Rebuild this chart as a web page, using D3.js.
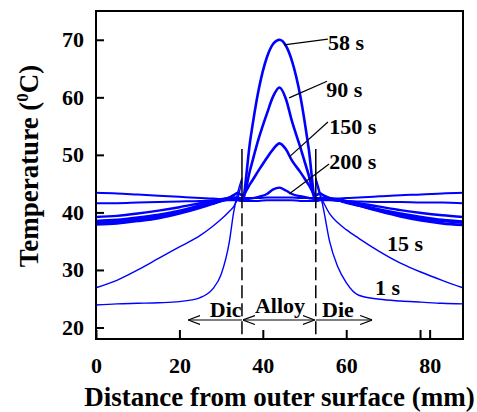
<!DOCTYPE html>
<html>
<head>
<meta charset="utf-8">
<script src="https://cdn.jsdelivr.net/npm/d3@7"></script>
<style>
    body { margin: 0; background: #fff; }
    svg text { font-family: "Liberation Serif", "Times New Roman", serif; font-weight: bold; fill: #000; }
</style>
</head>
<body>
<svg id="chart"></svg>
<script>
// distance from outer surface (mm), shared by all curves
var distance = [0, 5, 10, 15, 20, 25, 28, 30, 32, 33, 34, 35, 37, 39, 41, 42.5, 44, 45.5, 47, 49, 51, 52.7,
    53.7, 54.7, 56, 58, 60, 63, 68, 73, 78, 83, 88];
// temperature (oC) of each curve, null = no value
var temp1s = [23.9, 24.1, 24.2, 24.3, 24.5, 25.2, 26.7, 29.2, 35, 40, 43.5, 46,
    null, null, null, null, null, null, null, null, null,
    46, 43.5, 40, 35, 30.5, 27.8, 25.6, 24.9, 24.6, 24.4, 24.2, 24.1];
var temp15s = [26.9, 28.2, 30, 32, 34, 36, 37.6, 38.8, 40.2, 41, 42.5, 45.5,
    null, null, null, null, null, null, null, null, null,
    45.5, 43, 41.5, 39.8, 38.2, 37, 35.5, 33.2, 31.2, 29.6, 28.2, 26.9];
var temp58s = [37.9, 38.1, 38.5, 39, 39.8, 40.8, 41.5, 42, 42.3, 42.3, 42.2, 42,
    52.6, 61.3, 67, 69.3, 70, 69, 66.3, 60.2, 51.1,
    42, 42.2, 42.3, 42.3, 42.1, 41.8, 41.2, 40.2, 39.3, 38.6, 38.1, 37.8];
var temp90s = [38.2, 38.4, 38.8, 39.3, 40, 41, 41.6, 42, 42.3, 42.4, 42.4, 42.2,
    47.5, 52.8, 57.2, 60.2, 61.7, 59.8, 55.8, 51.3, 46.5,
    42.2, 42.4, 42.4, 42.3, 42.1, 41.7, 41.2, 40.3, 39.5, 38.9, 38.5, 38.2];
var temp150s = [38.5, 38.7, 39.1, 39.6, 40.3, 41.2, 41.8, 42.2, 42.6, 43, 43.4, 43,
    45, 47.3, 49.5, 51, 52, 51, 49, 47, 44.8,
    43, 43.3, 42.9, 42.5, 42.2, 41.8, 41.3, 40.5, 39.8, 39.2, 38.7, 38.4];
var temp200s = [39.2, 39.4, 39.8, 40.3, 40.9, 41.6, 42, 42.3, 42.5, 42.6, 42.6, 42.3,
    42.4, 42.7, 43.2, 44, 44.3, 43.8, 43.2, 42.8, 42.5,
    42.3, 42.5, 42.5, 42.4, 42.3, 42, 41.6, 41, 40.4, 39.9, 39.5, 39.2];
var tempLateA = [43.4, 43.3, 43.1, 42.9, 42.7, 42.5, 42.4, 42.3, 42.3, 42.4, 42.5, 42.5,
    42.5, 42.5, 42.6, 42.6, 42.6, 42.6, 42.6, 42.5, 42.5,
    42.5, 42.5, 42.4, 42.3, 42.4, 42.5, 42.6, 42.8, 43, 43.1, 43.3, 43.4];
var tempLateB = [41.6, 41.6, 41.7, 41.8, 41.9, 42, 42.1, 42.1, 42.1, 42.1, 42.1, 42,
    42, 42, 42.1, 42.1, 42.1, 42.1, 42.1, 42, 42,
    42, 42.1, 42.1, 42.1, 42, 42, 41.9, 41.8, 41.8, 41.7, 41.7, 41.6];
// die / alloy boundaries (mm)
var interfaces = [35, 52.7];
// ticks
var xTicks = [0, 20, 40, 60, 77.7, 80];
var xTickLabels = ['0', '20', '40', '60', '', '80'];
var yTicks = [20, 30, 40, 50, 60, 70];

var series = [
    {name: '1 s', values: temp1s, width: 1.4},
    {name: '15 s', values: temp15s, width: 1.4},
    {name: '', values: tempLateB, width: 2},
    {name: '', values: tempLateA, width: 2},
    {name: '200 s', values: temp200s, width: 2.4},
    {name: '150 s', values: temp150s, width: 2.6},
    {name: '90 s', values: temp90s, width: 2.6},
    {name: '58 s', values: temp58s, width: 2.6}
];

function drawChart(selector) {
    var svgWidth = 477,
        svgHeight = 412;
    var padding = {left: 96, right: 14, top: 11, bottom: 73};
    var svg = d3.select(selector)
        .attr('width', svgWidth)
        .attr('height', svgHeight);

    var x = d3.scaleLinear()
        .domain([0, 88])
        .range([padding.left, svgWidth - padding.right]);
    var y = d3.scaleLinear()
        .domain([18, 75])
        .range([svgHeight - padding.bottom, padding.top]);

    // open arrow head, tip at the end of the line
    svg.append('defs').append('marker')
        .attr('id', 'arrow')
        .attr('viewBox', '0 0 12 10')
        .attr('refX', 12)
        .attr('refY', 5)
        .attr('markerWidth', 12)
        .attr('markerHeight', 10)
        .attr('markerUnits', 'userSpaceOnUse')
        .attr('orient', 'auto-start-reverse')
        .append('path')
        .attr('d', 'M0,0.5 L12,5 L0,9.5')
        .attr('fill', 'none')
        .attr('stroke', '#000')
        .attr('stroke-width', 1.2);

    // curves
    var line = d3.line()
        .defined(function(d) { return d[1] != null; })
        .x(function(d) { return x(d[0]); })
        .y(function(d) { return y(d[1]); })
        .curve(d3.curveMonotoneX);
    svg.selectAll('.curve')
        .data(series)
        .enter()
        .append('path')
        .attr('class', 'curve')
        .attr('fill', 'none')
        .attr('stroke', '#0000ff')
        .attr('stroke-width', function(d) { return d.width; })
        .attr('stroke-linejoin', 'round')
        .attr('d', function(d) {
            return line(distance.map(function(v, i) { return [v, d.values[i]]; }));
        });

    // interface lines
    interfaces.forEach(function(v) {
        svg.append('line')
            .attr('x1', x(v)).attr('x2', x(v))
            .attr('y1', y(51)).attr('y2', y(43))
            .attr('stroke', '#000').attr('stroke-width', 1.5);
        svg.append('line')
            .attr('x1', x(v)).attr('x2', x(v))
            .attr('y1', y(43)).attr('y2', y(18))
            .attr('stroke', '#000').attr('stroke-width', 1.5)
            .attr('stroke-dasharray', '13,5');
    });

    // axes
    var xAxis = d3.axisBottom(x)
        .tickValues(xTicks)
        .tickSize(-9)
        .tickPadding(18)
        .tickFormat(function(d, i) { return xTickLabels[i]; });
    var gx = svg.append('g')
        .attr('transform', 'translate(0,' + (svgHeight - padding.bottom) + ')')
        .call(xAxis);
    var yAxis = d3.axisLeft(y)
        .tickValues(yTicks)
        .tickSize(-8)
        .tickPadding(12);
    var gy = svg.append('g')
        .attr('transform', 'translate(' + padding.left + ',0)')
        .call(yAxis);
    [gx, gy].forEach(function(g) {
        g.select('.domain').remove();
        g.selectAll('.tick line').attr('stroke', '#000').attr('stroke-width', 2);
        g.selectAll('.tick text')
            .style('font-family', '"Liberation Serif", serif')
            .style('font-weight', 'bold')
            .style('font-size', '22px');
    });

    // frame
    svg.append('rect')
        .attr('x', x(0))
        .attr('y', y(75))
        .attr('width', x(88) - x(0))
        .attr('height', y(18) - y(75))
        .attr('fill', 'none')
        .attr('stroke', '#000')
        .attr('stroke-width', 2);

    // curve labels
    var curveLabels = [
        {text: '58 s', from: [45.1, 69.1], to: [55.6, 70.1], at: [55.6, 68.3]},
        {text: '90 s', from: [46.3, 59.9], to: [55.4, 62.8], at: [55.2, 60.1]},
        {text: '150 s', from: [46.3, 49.6], to: [55.6, 55.7], at: [55.9, 53.6]},
        {text: '200 s', from: [46.3, 43.2], to: [55.9, 48.4], at: [55.9, 47.5]},
        {text: '15 s', from: null, at: [69.8, 33.3]},
        {text: '1 s', from: null, at: [66.9, 25.6]}
    ];
    curveLabels.forEach(function(d) {
        if (d.from) {
            svg.append('line')
                .attr('x1', x(d.from[0])).attr('y1', y(d.from[1]))
                .attr('x2', x(d.to[0])).attr('y2', y(d.to[1]))
                .attr('stroke', '#000').attr('stroke-width', 1.2);
        }
        svg.append('text')
            .attr('x', x(d.at[0]))
            .attr('y', y(d.at[1]))
            .style('font-size', '22px')
            .text(d.text);
    });

    // region arrows
    var arrowY = y(21.3);
    svg.append('line')
        .attr('x1', x(35)).attr('x2', x(22.1))
        .attr('y1', arrowY).attr('y2', arrowY)
        .attr('stroke', '#000').attr('stroke-width', 1.2)
        .attr('marker-end', 'url(#arrow)');
    svg.append('line')
        .attr('x1', x(35) + 1).attr('x2', x(52.7) - 1)
        .attr('y1', arrowY).attr('y2', arrowY)
        .attr('stroke', '#000').attr('stroke-width', 1.2)
        .attr('marker-start', 'url(#arrow)')
        .attr('marker-end', 'url(#arrow)');
    svg.append('line')
        .attr('x1', x(52.7)).attr('x2', x(66.2))
        .attr('y1', arrowY).attr('y2', arrowY)
        .attr('stroke', '#000').attr('stroke-width', 1.2)
        .attr('marker-end', 'url(#arrow)');

    var regionLabels = [
        {text: 'Dic', at: [27.3, 21.8]},
        {text: 'Alloy', at: [38.1, 22.5]},
        {text: 'Die', at: [54.2, 21.8]}
    ];
    svg.selectAll('.region')
        .data(regionLabels)
        .enter()
        .append('text')
        .attr('class', 'region')
        .attr('x', function(d) { return x(d.at[0]); })
        .attr('y', function(d) { return y(d.at[1]); })
        .style('font-size', '22px')
        .text(function(d) { return d.text; });

    // axis titles
    svg.append('text')
        .attr('x', (x(0) + x(88)) / 2)
        .attr('y', 406)
        .attr('text-anchor', 'middle')
        .style('font-size', '27px')
        .text('Distance from outer surface (mm)');
    var yTitle = svg.append('text')
        .attr('transform', 'translate(38,166) rotate(-90)')
        .attr('text-anchor', 'middle')
        .style('font-size', '27px');
    yTitle.append('tspan').text('Temperature (');
    yTitle.append('tspan').attr('dy', -10).style('font-size', '17px').text('0');
    yTitle.append('tspan').attr('dy', 10).text('C)');
}
drawChart('#chart');
</script>
</body>
</html>
